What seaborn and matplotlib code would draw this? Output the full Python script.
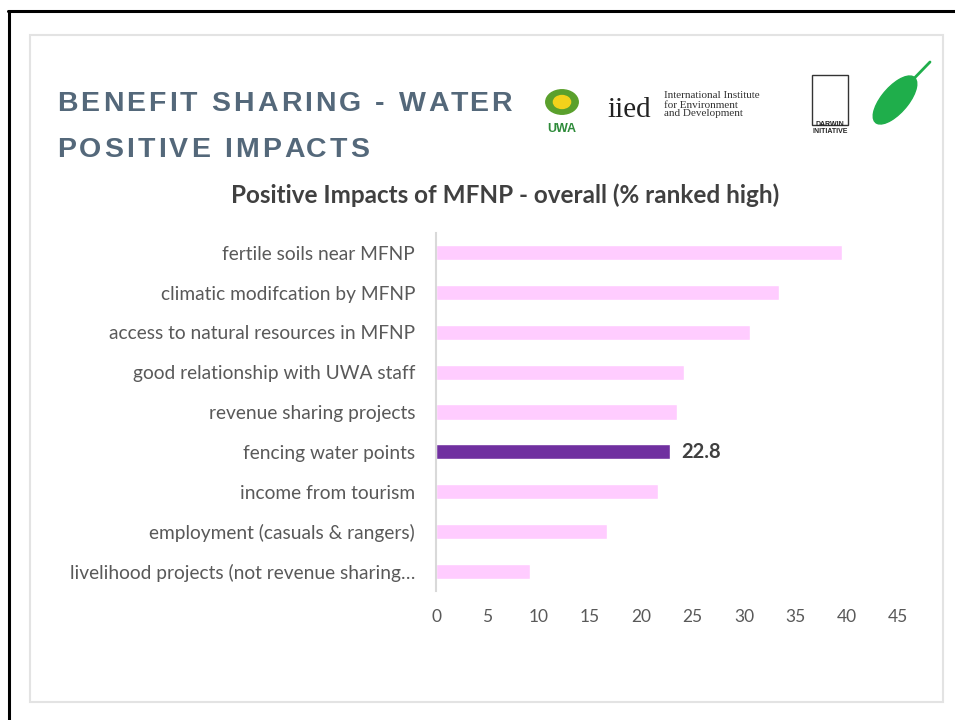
import matplotlib
matplotlib.use("Agg")
import matplotlib.pyplot as plt
from matplotlib.patches import Rectangle, Ellipse
from matplotlib.lines import Line2D
from matplotlib.font_manager import FontProperties
import seaborn as sns
import pandas as pd

categories = [
    "fertile soils near MFNP",
    "climatic modifcation by MFNP",
    "access to natural resources in MFNP",
    "good relationship with UWA staff",
    "revenue sharing projects",
    "fencing water points",
    "income from tourism",
    "employment (casuals & rangers)",
    "livelihood projects (not revenue sharing\u2026",
]
values = [39.5, 33.4, 30.6, 24.2, 23.5, 22.8, 21.6, 16.7, 9.2]
highlight = "fencing water points"
xticks = [0, 5, 10, 15, 20, 25, 30, 35, 40, 45]

df = pd.DataFrame({"item": categories, "pct": values})
colors = ["#7030A0" if c == highlight else "#FFCCFF" for c in categories]

sns.set_theme(style="white")
plt.rcParams["font.family"] = ["Lato", "DejaVu Sans"]

fig = plt.figure(figsize=(9.55, 7.2), dpi=100)
fig.patch.set_facecolor("white")
renderer = fig.canvas.get_renderer()

# slide border and card frame
fig.add_artist(Line2D([8 / 955, 1.0], [1 - 11 / 720, 1 - 11 / 720], color="black", lw=2.2))
fig.add_artist(Line2D([9 / 955, 9 / 955], [0, 1 - 11 / 720], color="black", lw=2.2))
fig.add_artist(Rectangle((30 / 955, 1 - 702 / 720), 913 / 955, 667 / 720,
                         fill=False, edgecolor="#e3e3e3", lw=1.5))


def spaced_text(x_px, y_px, s, tracking_px, size):
    # letter-spaced heading, one glyph at a time
    fp = FontProperties(family="Liberation Sans", weight="bold", size=size)
    for i, ch in enumerate(s):
        w, _, _ = renderer.get_text_width_height_descent(s[:i], fp, ismath=False) if i else (0, 0, 0)
        fig.text((x_px + w + i * tracking_px) / 955, 1 - y_px / 720, ch,
                 fontproperties=fp, color="#54687a")


spaced_text(57, 111, "BENEFIT SHARING - WATER", 3.1, 20.5)
spaced_text(57, 157, "POSITIVE IMPACTS", 3.1, 20.5)

# logo stand-ins
fig.text(562 / 955, 1 - 132 / 720, "UWA", fontsize=9, fontweight="bold", color="#2e8b3a",
         ha="center", family=["Liberation Sans"])
fig.add_artist(plt.Circle((562 / 955, 1 - 102 / 720), 0.017, transform=fig.transFigure,
                          color="#5aa02c"))
fig.add_artist(plt.Circle((562 / 955, 1 - 102 / 720), 0.009, transform=fig.transFigure,
                          color="#f2d21b"))
fig.text(607 / 955, 1 - 117 / 720, "iied", fontsize=21, color="#222222",
         family=["Liberation Serif"])
fig.text(664 / 955, 1 - 105 / 720, "International Institute\nfor Environment\nand Development",
         fontsize=8, color="#333333", family=["Liberation Serif"], va="center",
         linespacing=1.0)
fig.text(830 / 955, 1 - 133 / 720, "DARWIN\nINITIATIVE", fontsize=5, fontweight="bold",
         color="#222222", ha="center", family=["Liberation Sans"], linespacing=0.9)
fig.add_artist(Rectangle((812 / 955, 1 - 125 / 720), 36 / 955, 50 / 720, fill=False,
                         edgecolor="#333333", lw=1))
fig.add_artist(Ellipse((895 / 955, 1 - 100 / 720), 0.03, 0.075, angle=-30,
                       transform=fig.transFigure, color="#1fae4b"))
fig.add_artist(Line2D([898 / 955, 930 / 955], [1 - 95 / 720, 1 - 62 / 720],
                      color="#1fae4b", lw=2))

# chart title
fig.text(505 / 955, 1 - 195 / 720, "Positive Impacts of MFNP - overall (% ranked high)",
         ha="center", va="center", fontsize=17.5, fontweight="bold", color="#404040")

ax = fig.add_axes([436 / 955, 1 - 591 / 720, 462 / 955, 358 / 720])
sns.barplot(data=df, x="pct", y="item", hue="item", palette=colors, legend=False,
            width=0.38, ax=ax, saturation=1)

ax.set_xlim(0, 45)
ax.set_xticks(xticks)
ax.set_xticklabels([str(t) for t in xticks])
ax.set_xlabel("")
ax.set_ylabel("")
ax.tick_params(axis="x", length=0, pad=13, labelsize=12.5, labelcolor="#595959")
ax.tick_params(axis="y", length=0, pad=15, labelsize=13.8, labelcolor="#595959")
for s in ["top", "right", "bottom"]:
    ax.spines[s].set_visible(False)
ax.spines["left"].set_color("#d9d9d9")
ax.spines["left"].set_linewidth(1.5)

i = categories.index(highlight)
ax.text(values[i] + 1.1, i, f"{values[i]:.1f}", va="center", ha="left",
        fontsize=14.5, fontweight="bold", color="#404040")

fig.savefig("out.png", dpi=100)
